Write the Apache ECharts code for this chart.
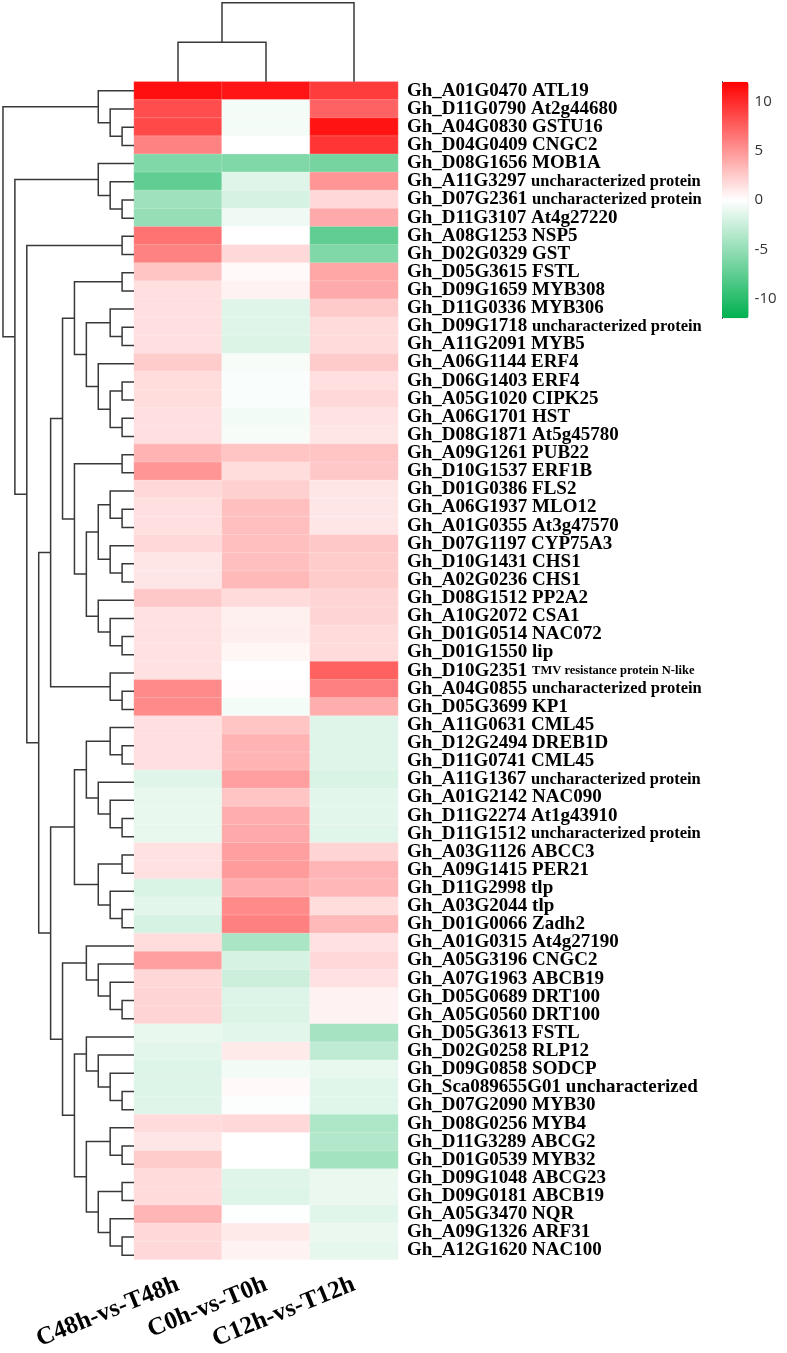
<!DOCTYPE html>
<html><head><meta charset="utf-8">
<script src="https://cdn.jsdelivr.net/npm/echarts@6/dist/echarts.min.js"></script>
<style>html,body{margin:0;padding:0;background:#fff}#c{width:787px;height:1353px}</style>
</head><body><div id="c"></div>
<script>
const columns = ['C48h-vs-T48h', 'C0h-vs-T0h', 'C12h-vs-T12h'];
const geneIds = ['Gh_A01G0470','Gh_D11G0790','Gh_A04G0830','Gh_D04G0409','Gh_D08G1656','Gh_A11G3297','Gh_D07G2361','Gh_D11G3107','Gh_A08G1253','Gh_D02G0329',
'Gh_D05G3615','Gh_D09G1659','Gh_D11G0336','Gh_D09G1718','Gh_A11G2091','Gh_A06G1144','Gh_D06G1403','Gh_A05G1020','Gh_A06G1701','Gh_D08G1871',
'Gh_A09G1261','Gh_D10G1537','Gh_D01G0386','Gh_A06G1937','Gh_A01G0355','Gh_D07G1197','Gh_D10G1431','Gh_A02G0236','Gh_D08G1512','Gh_A10G2072',
'Gh_D01G0514','Gh_D01G1550','Gh_D10G2351','Gh_A04G0855','Gh_D05G3699','Gh_A11G0631','Gh_D12G2494','Gh_D11G0741','Gh_A11G1367','Gh_A01G2142',
'Gh_D11G2274','Gh_D11G1512','Gh_A03G1126','Gh_A09G1415','Gh_D11G2998','Gh_A03G2044','Gh_D01G0066','Gh_A01G0315','Gh_A05G3196','Gh_A07G1963',
'Gh_D05G0689','Gh_A05G0560','Gh_D05G3613','Gh_D02G0258','Gh_D09G0858','Gh_Sca089655G01','Gh_D07G2090','Gh_D08G0256','Gh_D11G3289','Gh_D01G0539',
'Gh_D09G1048','Gh_D09G0181','Gh_A05G3470','Gh_A09G1326','Gh_A12G1620'];
const geneNames = ['ATL19','At2g44680','GSTU16','CNGC2','MOB1A','uncharacterized protein','uncharacterized protein','At4g27220','NSP5','GST',
'FSTL','MYB308','MYB306','uncharacterized protein','MYB5','ERF4','ERF4','CIPK25','HST','At5g45780',
'PUB22','ERF1B','FLS2','MLO12','At3g47570','CYP75A3','CHS1','CHS1','PP2A2','CSA1',
'NAC072','lip','TMV resistance protein N-like','uncharacterized protein','KP1','CML45','DREB1D','CML45','uncharacterized protein','NAC090',
'At1g43910','uncharacterized protein','ABCC3','PER21','tlp','tlp','Zadh2','At4g27190','CNGC2','ABCB19',
'DRT100','DRT100','FSTL','RLP12','SODCP','uncharacterized','MYB30','MYB4','ABCG2','MYB32',
'ABCG23','ABCB19','NQR','ARF31','NAC100'];
const valC48 = [11.3, 8.4, 8.6, 5.9, -6, -7.5, -4.5, -5, 6.6, 5.9, 2.8, 1.5, 1.5, 1.5, 1.5, 2.4, 1.6, 1.6, 1.5, 1.5,
 3.6, 5, 1.8, 1.5, 1.5, 1.8, 1.2, 1.2, 2.6, 1.4, 1.4, 1.4, 1.4, 5.5, 5.5, 1.5, 1.5, 1.5, -1.5, -1.1,
 -1.1, -1.1, 1.4, 1.4, -1.8, -1.3, -2, 1.6, 4.5, 1.9, 2, 2, -1.1, -1.3, -1.6, -1.6, -1.5, 1.7, 1.2, 2.4,
 1.7, 1.7, 3.5, 1.8, 1.8];
const valC0 = [11, -0.5, -0.5, 0, -6, -1.5, -2, -0.8, 0, 1.8, 0.3, 0.6, -1.5, -1.5, -1.7, -0.4, -0.3, -0.3, -0.6, -0.4,
 2.8, 1.6, 2.2, 3, 3, 3, 3, 3.3, 1.7, 0.7, 0.8, 0.4, 0, 0.1, -0.5, 2.8, 3.6, 3.6, 4.5, 2.8,
 3.8, 4, 4.5, 4.7, 3.8, 5.5, 6, -4, -2, -2.4, -1.6, -1.7, -1.3, 1, -0.6, 0.3, -0.2, 1.8, 0, 0,
 -1.5, -1.6, -0.1, 1, 0.6];
const valC12 = [9.2, 7.4, 11.1, 9.5, -6.5, 5, 1.8, 4, -7.5, -6, 4.2, 4, 2.5, 1.7, 1.7, 2.5, 1.5, 1.8, 1.3, 1.2,
 2.8, 2.6, 1.2, 1.2, 1.2, 2.6, 2.4, 2.4, 2, 2, 1.7, 1.7, 7.5, 6, 3.8, -1.5, -1.5, -1.5, -1.8, -1.3,
 -1.3, -1.4, 2, 3.5, 3.4, 1.6, 3.3, 1.4, 1.8, 1.4, 0.6, 0.6, -4.2, -3, -1.1, -1.4, -1.4, -3.8, -3.6, -4.3,
 -1, -1, -1.4, -1, -1.2];
const colorTicks = [-10, -5, 0, 5, 10];
// Row clustering (leaf = row index, 0-based, top to bottom)
const rowTree = [[0,[1,[2,3]]],
  [[4,[5,[6,7]]],
   [[8,9],
    [[[[[10,11],[[12,[13,14]],[15,[[16,17],[18,19]]]]],
        [[20,21],[[[22,[23,24]],[25,[26,27]]],[28,[29,[30,31]]]]]],
       [32,[33,34]]],
      [[[[35,[36,37]],[38,[39,[40,41]]]],[[42,43],[44,[45,46]]]],
       [[47,[48,[49,[50,51]]]],
        [[52,[53,[54,[55,56]]]],
         [[57,[58,59]],[[60,61],[62,[63,64]]]]]]]]]]];
const colTree = [[0, 1], 2];

function buildLinks(node, out) {
  if (typeof node === 'number') return { pos: node, lvl: 0 };
  const a = buildLinks(node[0], out), b = buildLinks(node[1], out);
  const lvl = Math.max(a.lvl, b.lvl) + 1;
  out.push([a.lvl, a.pos, b.lvl, b.pos, lvl]);
  return { pos: (a.pos + b.pos) / 2, lvl: lvl };
}
const rowLinks = []; buildLinks(rowTree, rowLinks);
const colLinks = []; buildLinks(colTree, colLinks);

const heatData = [];
[valC48, valC0, valC12].forEach((arr, c) => arr.forEach((v, r) => heatData.push([c, r, v])));

const SERIF = "'Liberation Serif', 'Times New Roman', serif";
const nRows = geneIds.length;
const TOP = 81.7, HM_H = 1182.6, HM_L = 134, HM_W = 264;
const LINE = '#383838';

const chart = echarts.init(document.getElementById('c'), null, { renderer: 'canvas' });
chart.setOption({
  backgroundColor: '#ffffff',
  animation: false,
  grid: [
    { left: HM_L, top: TOP, width: HM_W, height: HM_H },
    { left: 0, top: TOP, width: HM_L, height: HM_H },
    { left: HM_L, top: 0, width: HM_W, height: TOP },
    { left: 722, top: TOP, width: 26.6, height: 236.6 }
  ],
  xAxis: [
    { gridIndex: 0, type: 'category', data: columns, position: 'bottom',
      axisLine: { show: false }, axisTick: { show: false }, splitLine: { show: false },
      axisLabel: { interval: 0, rotate: 22, margin: 24, fontFamily: SERIF, fontWeight: 'bold', fontSize: 25, color: '#000' } },
    { gridIndex: 1, type: 'value', min: 0, max: 11.25, inverse: true, show: false },
    { gridIndex: 2, type: 'value', min: -0.5, max: 2.5, show: false },
    { gridIndex: 3, type: 'value', min: 0, max: 1, show: false }
  ],
  yAxis: [
    { gridIndex: 0, type: 'category', data: geneIds, inverse: true, position: 'right',
      axisLine: { show: false }, axisTick: { show: false }, splitLine: { show: false },
      axisLabel: {
        interval: 0, margin: 9, color: '#000',
        formatter: function (v, i) {
          const nm = geneNames[i];
          if (nm === 'uncharacterized protein') return '{id|' + v + ' }{sm|' + nm + '}';
          if (nm.indexOf('TMV') === 0) return '{id|' + v + ' }{xs|' + nm + '}';
          return '{id|' + v + ' ' + nm + '}';
        },
        rich: {
          id: { fontFamily: SERIF, fontWeight: 'bold', fontSize: 19, color: '#000' },
          sm: { fontFamily: SERIF, fontWeight: 'bold', fontSize: 16.5, color: '#000' },
          xs: { fontFamily: SERIF, fontWeight: 'bold', fontSize: 12.5, color: '#000' }
        }
      } },
    { gridIndex: 1, type: 'value', min: -0.5, max: nRows - 0.5, inverse: true, show: false },
    { gridIndex: 2, type: 'value', min: 0, max: 2.07, show: false },
    { gridIndex: 3, type: 'value', min: -12, max: 12, position: 'right',
      axisLine: { show: true, lineStyle: { color: '#222', width: 1 } },
      axisTick: { show: true, length: 5, customValues: colorTicks, lineStyle: { color: '#222' } },
      splitLine: { show: false },
      axisLabel: { customValues: colorTicks, margin: 6, fontFamily: "'Open Sans', 'Noto Sans', sans-serif", fontSize: 15, color: '#333' } }
  ],
  visualMap: {
    type: 'continuous', min: -12, max: 12, seriesIndex: 0,
    left: 722, top: TOP, itemWidth: 26.6, itemHeight: 236.6, padding: 0,
    calculable: false, hoverLink: false, text: null,
    inRange: { color: ['#00b050', '#ffffff', '#ff0000'] }
  },
  series: [
    { type: 'heatmap', xAxisIndex: 0, yAxisIndex: 0, data: heatData,
      itemStyle: { borderColor: 'rgba(255,255,255,0.35)', borderWidth: 0.6 },
      emphasis: { disabled: true } },
    { type: 'custom', xAxisIndex: 1, yAxisIndex: 1, data: rowLinks, silent: true,
      encode: { x: [0, 2, 4], y: [1, 3] },
      renderItem: function (params, api) {
        const la = api.value(0), pa = api.value(1), lb = api.value(2), pb = api.value(3), l = api.value(4);
        return { type: 'polyline',
          shape: { points: [api.coord([la, pa]), api.coord([l, pa]), api.coord([l, pb]), api.coord([lb, pb])] },
          style: { stroke: LINE, lineWidth: 1.5, fill: null } };
      } },
    { type: 'custom', xAxisIndex: 2, yAxisIndex: 2, data: colLinks, silent: true,
      encode: { x: [1, 3], y: [0, 2, 4] },
      renderItem: function (params, api) {
        const la = api.value(0), pa = api.value(1), lb = api.value(2), pb = api.value(3), l = api.value(4);
        return { type: 'polyline',
          shape: { points: [api.coord([pa, la]), api.coord([pa, l]), api.coord([pb, l]), api.coord([pb, lb])] },
          style: { stroke: LINE, lineWidth: 1.5, fill: null } };
      } },
    { type: 'scatter', xAxisIndex: 3, yAxisIndex: 3, data: [], silent: true }
  ]
});
</script></body></html>
